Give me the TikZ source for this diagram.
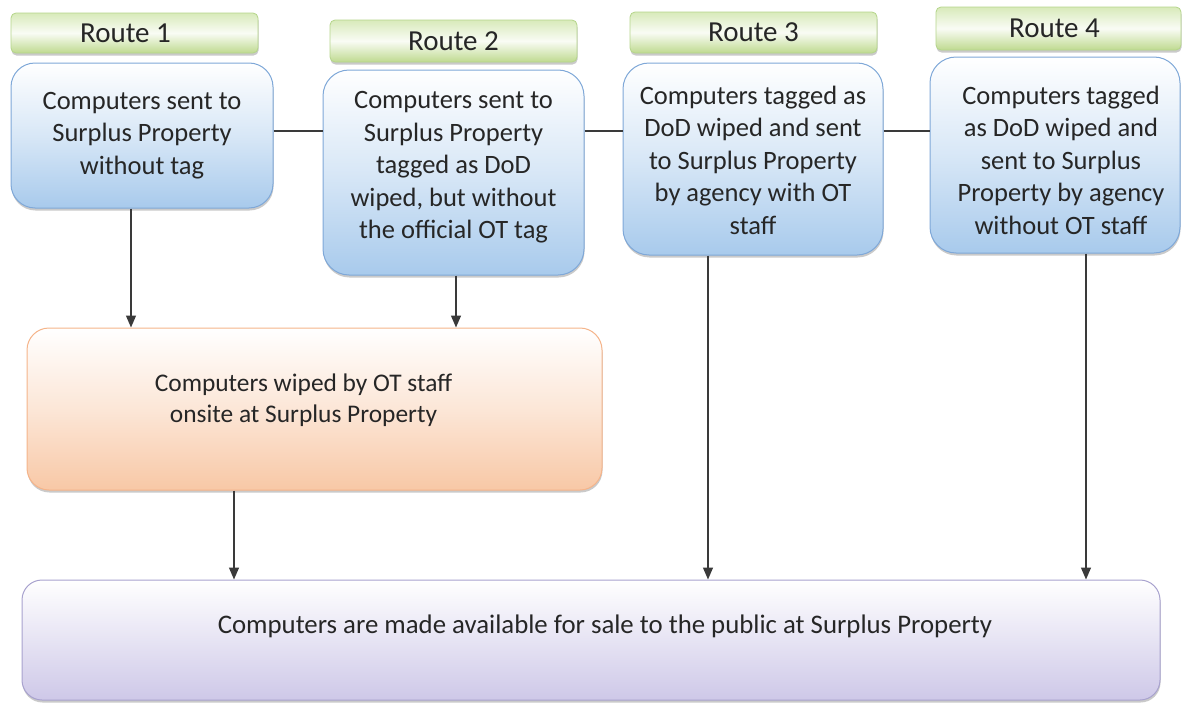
\documentclass[tikz,border=0pt]{standalone}
\usepackage{fontspec}
\setmainfont{Carlito}
\usetikzlibrary{shadows,arrows.meta}
\definecolor{bluetop}{HTML}{FFFFFF}
\definecolor{bluebot}{HTML}{A8CAEC}
\definecolor{blueline}{HTML}{7FA8D8}
\definecolor{orangebot}{HTML}{F8C8A6}
\definecolor{orangeline}{HTML}{F5B48A}
\definecolor{purplebot}{HTML}{CEC8E8}
\definecolor{purpleline}{HTML}{A8A2CE}
\definecolor{greentop}{HTML}{D8EABA}
\definecolor{greenbot}{HTML}{BFDA90}
\definecolor{greenline}{HTML}{B4D58A}
\definecolor{linegray}{HTML}{3A3A3A}
\tikzset{
  boxbase/.style={rectangle, inner sep=0pt,
    drop shadow={shadow xshift=0.5pt, shadow yshift=-2.5pt, opacity=0.35, fill=black!60}},
  routebox/.style={boxbase, draw=blueline, line width=1pt,
    top color=bluetop, bottom color=bluebot, middle color=bluetop!55!bluebot},
  routelabel/.style={boxbase, rounded corners=5pt, draw=greenline, line width=0.8pt,
    top color=greentop, bottom color=greenbot, middle color=white!85!greentop},
  wipebox/.style={boxbase, rounded corners=22pt, draw=orangeline, line width=1pt,
    top color=white, bottom color=orangebot, middle color=white!55!orangebot},
  salebox/.style={boxbase, rounded corners=20pt, draw=purpleline, line width=1pt,
    top color=white, bottom color=purplebot, middle color=white!50!purplebot},
  routetxt/.style={align=center, inner sep=0pt, text=black!85, font=\fontsize{26.5}{32.5}\selectfont},
  labeltxt/.style={inner sep=0pt, text=black!85, font=\fontsize{29}{34}\selectfont},
  wipetxt/.style={align=center, inner sep=0pt, text=black!85, font=\fontsize{25.4}{31}\selectfont},
  saletxt/.style={inner sep=0pt, text=black!85, font=\fontsize{26.8}{30}\selectfont},
  link/.style={draw=linegray, line width=1.3pt},
  arr/.style={link, -{Triangle[length=12pt,width=10pt]}}
}
\begin{document}
\begin{tikzpicture}[x=1pt,y=-1pt]
\useasboundingbox (0,0) rectangle (1184,704);
% route labels
\node[routelabel, minimum width=247pt, minimum height=40pt] (l1) at (134.5,33) {};
\node[labeltxt] (l1t) at ([xshift=-9pt]l1.center) {Route 1};
\node[routelabel, minimum width=247pt, minimum height=42pt] (l2) at (453.5,41) {};
\node[labeltxt] (l2t) at (l2.center) {Route 2};
\node[routelabel, minimum width=247pt, minimum height=41pt] (l3) at (753.5,32.5) {};
\node[labeltxt] (l3t) at (l3.center) {Route 3};
\node[routelabel, minimum width=245pt, minimum height=43pt] (l4) at (1058.5,28.5) {};
\node[labeltxt] (l4t) at ([xshift=-4pt]l4.center) {Route 4};
% route boxes
\node[routebox, rounded corners=24pt, minimum width=262pt, minimum height=145pt] (b1) at (142,135.5) {};
\node[routetxt] (b1t) at (b1.center) {Computers sent to\\Surplus Property\\without tag};
\node[routebox, rounded corners=26pt, minimum width=261pt, minimum height=205pt] (b2) at (453.5,172.5) {};
\node[routetxt] (b2t) at ([yshift=5pt]b2.center) {Computers sent to\\Surplus Property\\tagged as DoD\\wiped, but without\\the official OT tag};
\node[routebox, rounded corners=26pt, minimum width=260pt, minimum height=192pt] (b3) at (753,159) {};
\node[routetxt] (b3t) at ([yshift=-1pt]b3.center) {Computers tagged as\\DoD wiped and sent\\to Surplus Property\\by agency with OT\\staff};
\node[routebox, rounded corners=26pt, minimum width=250pt, minimum height=196pt] (b4) at (1055,155) {};
\node[routetxt] (b4t) at ([xshift=6pt,yshift=-5pt]b4.center) {Computers tagged\\as DoD wiped and\\sent to Surplus\\Property by agency\\without OT staff};
% orange box
\node[wipebox, minimum width=575pt, minimum height=162pt] (w) at (314.5,409) {};
\node[wipetxt] (wt) at ([xshift=-11pt,yshift=9pt]w.center) {Computers wiped by OT staff\\onsite at Surplus Property};
% bottom box
\node[salebox, minimum width=1138pt, minimum height=120pt] (s) at (591,640) {};
\node[saletxt] (st) at ([xshift=14pt,yshift=14pt]s.center) {Computers are made available for sale to the public at Surplus Property};
% horizontal links
\draw[link] (b1.east |- 0,131) -- (b2.west |- 0,131);
\draw[link] (b2.east |- 0,131) -- (b3.west |- 0,131);
\draw[link] (b3.east |- 0,131) -- (b4.west |- 0,131);
% arrows
\draw[arr] (b1.south -| 131,0) -- (w.north -| 131,0);
\draw[arr] (b2.south -| 456,0) -- (w.north -| 456,0);
\draw[arr] (w.south -| 234,0) -- (s.north -| 234,0);
\draw[arr] (b3.south -| 708,0) -- (s.north -| 708,0);
\draw[arr] (b4.south -| 1086,0) -- (s.north -| 1086,0);
\end{tikzpicture}
\end{document}
